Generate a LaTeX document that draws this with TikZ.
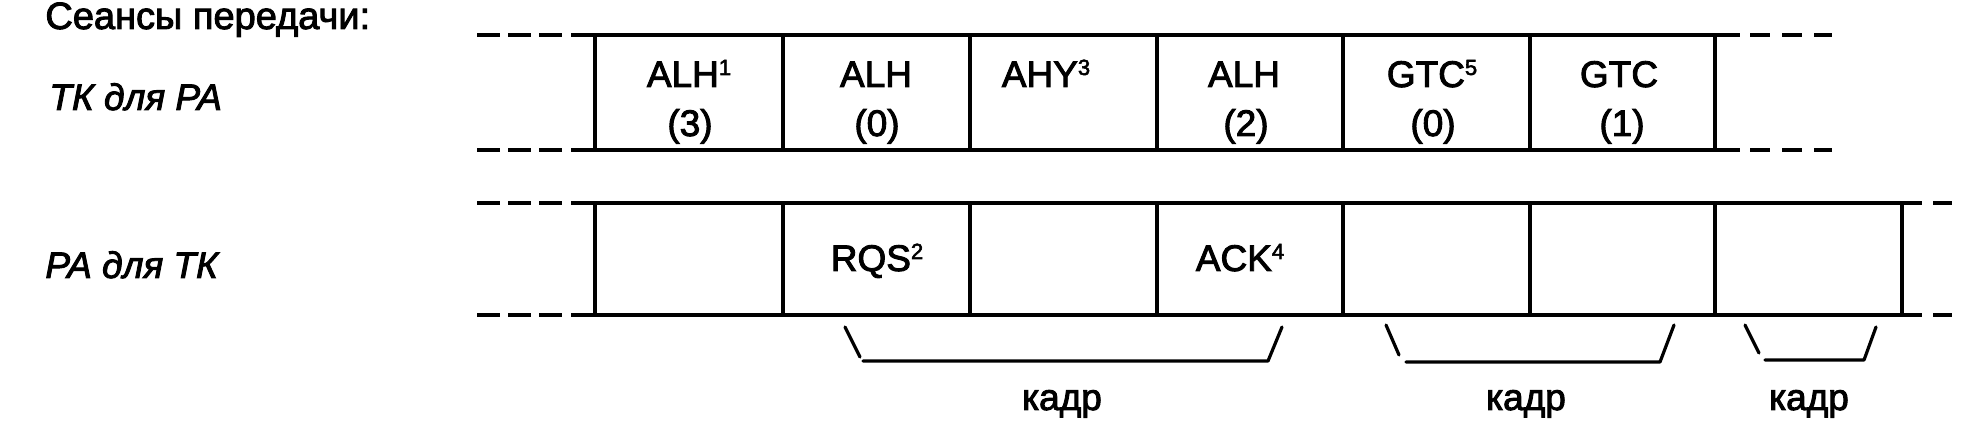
\documentclass[tikz,border=0pt]{standalone}
\usepackage{fontspec}
\setmainfont{Liberation Sans}[FakeBold=2.5]
\newcommand{\supnum}[1]{\raisebox{6pt}{\fontsize{11}{11}\selectfont #1}}
\begin{document}
\begin{tikzpicture}[x=0.5pt,y=-0.5pt,
  txt/.style={font=\fontsize{18.5}{20}\selectfont, inner sep=0pt, anchor=base},
  rowlbl/.style={font=\fontsize{18.5}{20}\selectfont\itshape, inner sep=0pt, anchor=base west},
  titlelbl/.style={font=\fontsize{19}{20}\selectfont, inner sep=0pt, anchor=base west},
  hline/.style={line width=2pt},
  vline/.style={line width=1.75pt},
  ldash/.style={line width=2pt, dash pattern=on 11.5pt off 4pt},
  rdash/.style={line width=2pt, dash pattern=on 10pt off 6pt},
  brk/.style={line width=1.6pt, line cap=round, line join=round},
]
\useasboundingbox (0,0) rectangle (1984,431);

% headings
\node[titlelbl] (title) at (45,29) {Сеансы передачи:};
\node[rowlbl] (rowA) at (49,110) {ТК для РА};
\node[rowlbl] (rowB) at (45,278) {РА для ТК};

% row A (TK -> PA): horizontal lines
\foreach \yy/\nm in {35/At,150/Ab}{
  \coordinate (\nm dl) at (477,\yy);
  \coordinate (\nm dr) at (566,\yy);
  \coordinate (\nm sl) at (571,\yy);
  \coordinate (\nm sr) at (1740,\yy);
  \coordinate (\nm el) at (1750,\yy);
  \coordinate (\nm er) at (1832,\yy);
  \draw[ldash] (\nm dl) -- (\nm dr);
  \draw[hline] (\nm sl) -- (\nm sr);
  \draw[rdash] (\nm el) -- (\nm er);
}
% row B (PA -> TK): horizontal lines
\foreach \yy/\nm in {203/Bt,315/Bb}{
  \coordinate (\nm dl) at (477,\yy);
  \coordinate (\nm dr) at (566,\yy);
  \coordinate (\nm sl) at (571,\yy);
  \coordinate (\nm sr) at (1922,\yy);
  \coordinate (\nm el) at (1933,\yy);
  \coordinate (\nm er) at (1952,\yy);
  \draw[ldash] (\nm dl) -- (\nm dr);
  \draw[hline] (\nm sl) -- (\nm sr);
  \draw[hline] (\nm el) -- (\nm er);
}

% cell boundaries
\foreach \xx [count=\i] in {595,783,970,1157,1343,1530,1715}{
  \coordinate (A\i t) at (\xx,35);
  \coordinate (A\i b) at (\xx,150);
  \draw[vline] (A\i t) -- (A\i b);
}
\foreach \xx [count=\i] in {595,783,970,1157,1343,1530,1715,1902}{
  \coordinate (B\i t) at (\xx,203);
  \coordinate (B\i b) at (\xx,315);
  \draw[vline] (B\i t) -- (B\i b);
}

% row A labels
\node[txt] (a1) at (689,87) {ALH\supnum{1}};
\node[txt] (a1n) at (690,136) {(3)};
\node[txt] (a2) at (876,87) {ALH};
\node[txt] (a2n) at (877,136) {(0)};
\node[txt] (a3) at (1046,87) {AHY\supnum{3}};
\node[txt] (a4) at (1244,87) {ALH};
\node[txt] (a4n) at (1246,136) {(2)};
\node[txt] (a5) at (1432,87) {GTC\supnum{5}};
\node[txt] (a5n) at (1433,136) {(0)};
\node[txt] (a6) at (1619,87) {GTC};
\node[txt] (a6n) at (1622,136) {(1)};

% row B labels
\node[txt] (b2) at (877,271) {RQS\supnum{2}};
\node[txt] (b4) at (1240,271) {ACK\supnum{4}};

% frame brackets
\coordinate (k1a) at (845,327); \coordinate (k1b) at (860,357);
\coordinate (k1c) at (863,361); \coordinate (k1d) at (1268,361); \coordinate (k1e) at (1282,327);
\draw[brk] (k1a) -- (k1b);
\draw[brk] (k1c) -- (k1d) -- (k1e);
\coordinate (k2a) at (1386,325); \coordinate (k2b) at (1399,355);
\coordinate (k2c) at (1406,362); \coordinate (k2d) at (1660,362); \coordinate (k2e) at (1674,325);
\draw[brk] (k2a) -- (k2b);
\draw[brk] (k2c) -- (k2d) -- (k2e);
\coordinate (k3a) at (1745,325); \coordinate (k3b) at (1759,353);
\coordinate (k3c) at (1765,360); \coordinate (k3d) at (1864,360); \coordinate (k3e) at (1876,327);
\draw[brk] (k3a) -- (k3b);
\draw[brk] (k3c) -- (k3d) -- (k3e);

\node[txt] (f1) at (1062,410) {кадр};
\node[txt] (f2) at (1526,410) {кадр};
\node[txt] (f3) at (1809,410) {кадр};
\end{tikzpicture}
\end{document}
